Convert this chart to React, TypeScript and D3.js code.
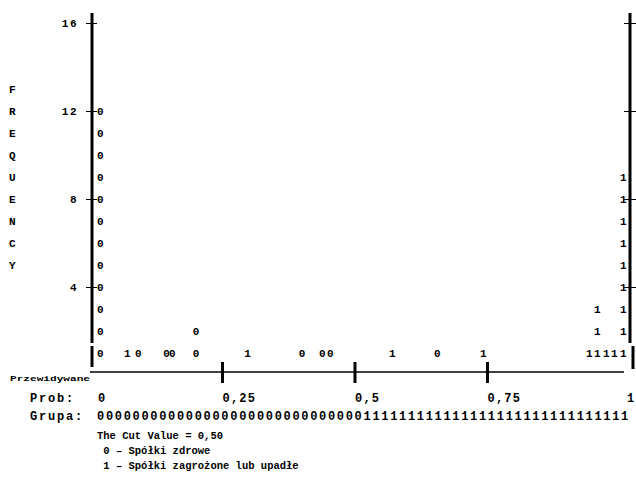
import React, { useEffect, useRef } from 'react';
import * as d3 from 'd3';

// predicted probability of each column of symbols, its group symbol, and how many are stacked
const binProbs = [0.013, 0.064, 0.085, 0.138, 0.149, 0.194, 0.291, 0.394, 0.432, 0.447, 0.564, 0.649, 0.736, 0.936, 0.951, 0.968, 0.983, 1.0];
const binGroups = ['0', '1', '0', '0', '0', '0', '1', '0', '0', '0', '1', '0', '1', '1', '1', '1', '1', '1'];
const binCounts = [12, 1, 1, 1, 1, 2, 1, 1, 1, 1, 1, 1, 1, 1, 3, 1, 1, 9];

const yTicks = [4, 8, 12, 16];
const xTicks = [0.25, 0.5, 0.75];
const probLabels = ['0', '0,25', '0,5', '0,75', '1'];
const probValues = [0, 0.25, 0.5, 0.75, 1];
const groupRow = '0'.repeat(30) + '1'.repeat(30);
const yTitle = 'FREQUENCY';
const notes = ['The Cut Value = 0,50', ' 0 – Spółki zdrowe', ' 1 – Spółki zagrożone lub upadłe'];

const FONT = '"Liberation Mono", "DejaVu Sans Mono", monospace';

const App = () => {
  const ref = useRef<SVGSVGElement>(null);
  const svgWidth = 636;
  const svgHeight = 489;

  useEffect(() => {
    const svg = d3.select(ref.current);
    svg.selectAll('*').remove();

    const xScale = d3.scaleLinear().domain([0, 1]).range([90, 620]);
    const yScale = d3.scaleLinear().domain([0, 16]).range([375, 23]);

    const g = svg.append('g')
      .attr('font-family', FONT)
      .attr('font-weight', 'bold')
      .attr('fill', 'black');

    // vertical axes (main part and the short bar beside the bottom row)
    [[92, 13, 343], [92, 346, 367], [630, 13, 343], [633, 346, 369]].forEach(([x, y1, y2]) => {
      g.append('line')
        .attr('x1', x).attr('x2', x).attr('y1', y1).attr('y2', y2)
        .attr('stroke', 'black').attr('stroke-width', 3);
    });

    // left ticks with labels
    const yAxis = d3.axisLeft(yScale).tickValues(yTicks).tickSize(11).tickPadding(8).tickFormat(d3.format('d'));
    const ya = g.append('g').attr('transform', 'translate(97,0)').call(yAxis);
    ya.select('.domain').remove();
    ya.selectAll('line').attr('stroke', 'black').attr('stroke-width', 1);
    ya.selectAll('text')
      .attr('font-family', FONT).attr('font-weight', 'bold').attr('font-size', 11)
      .attr('letter-spacing', 1.5).attr('fill', 'black');

    // right ticks
    const yAxisR = d3.axisRight(yScale).tickValues(yTicks).tickSize(12).tickFormat(() => '');
    const yr = g.append('g').attr('transform', 'translate(624,0)').call(yAxisR);
    yr.select('.domain').remove();
    yr.selectAll('line').attr('stroke', 'black').attr('stroke-width', 1);

    // y title, letter by letter
    yTitle.split('').forEach((ch, i) => {
      g.append('text')
        .attr('x', 9)
        .attr('y', yScale(13 - i))
        .attr('dy', '0.35em')
        .attr('font-size', 11)
        .text(ch);
    });

    // x axis line and ticks
    g.append('line')
      .attr('x1', 90).attr('x2', 624).attr('y1', 372).attr('y2', 372)
      .attr('stroke', 'black').attr('stroke-width', 1.5);
    g.selectAll('line.xtick')
      .data(xTicks)
      .enter()
      .append('line')
      .attr('class', 'xtick')
      .attr('x1', d => xScale(d)).attr('x2', d => xScale(d))
      .attr('y1', 362).attr('y2', 383)
      .attr('stroke', 'black').attr('stroke-width', 3);

    g.append('text')
      .attr('x', 10).attr('y', 381)
      .attr('font-size', 8)
      .attr('textLength', 80)
      .attr('lengthAdjust', 'spacingAndGlyphs')
      .text('Przewidywane');

    // stacked symbols
    binProbs.forEach((p, i) => {
      d3.range(1, binCounts[i] + 1).forEach(c => {
        g.append('text')
          .attr('x', xScale(p))
          .attr('y', yScale(c))
          .attr('dy', '0.35em')
          .attr('font-size', 11)
          .text(binGroups[i]);
      });
    });

    // Prob row
    g.append('text').attr('x', 30).attr('y', 402).attr('font-size', 12).attr('letter-spacing', 1.8).text('Prob:');
    const labelShift = [8, 0, 0, 0, 7];
    probValues.forEach((v, i) => {
      g.append('text')
        .attr('x', xScale(v) + labelShift[i])
        .attr('y', 402)
        .attr('font-size', 12)
        .attr('letter-spacing', 1.2)
        .text(probLabels[i]);
    });

    // Grupa row
    g.append('text').attr('x', 30).attr('y', 420).attr('font-size', 12).attr('letter-spacing', 1.8).text('Grupa:');
    const colScale = d3.scaleLinear().domain([0, groupRow.length]).range([97, 630]);
    groupRow.split('').forEach((ch, i) => {
      g.append('text')
        .attr('x', colScale(i))
        .attr('y', 420)
        .attr('font-size', 12)
        .text(ch);
    });

    // notes
    notes.forEach((t, i) => {
      g.append('text')
        .attr('x', 97)
        .attr('y', 439 + i * 15)
        .attr('font-size', 10.5)
        .attr('xml:space', 'preserve')
        .style('white-space', 'pre')
        .text(t);
    });
  }, []);

  return (
    <svg
      ref={ref}
      width={svgWidth}
      height={svgHeight}
      style={{ position: 'absolute', left: 0, top: 0, background: 'white' }}
    />
  );
};

export default App;
